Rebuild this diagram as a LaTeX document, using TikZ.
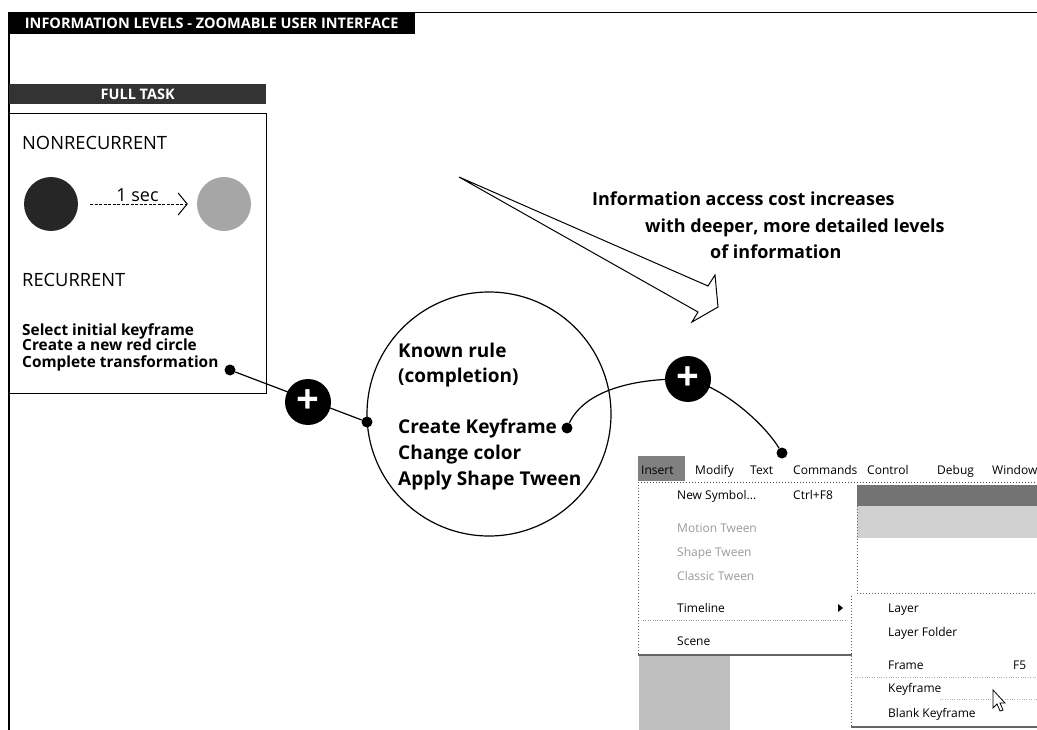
\documentclass[tikz,border=0pt]{standalone}
\usepackage{fontspec}
\setmainfont{Open Sans}
\newfontfamily\menufont{Open Sans}
\usetikzlibrary{arrows.meta}
\tikzstyle{titlebar}=[fill=black, text=white, inner sep=0, anchor=north west, font=\bfseries\fontsize{14.5}{16}\selectfont]
\tikzstyle{plaintext}=[anchor=base west, inner sep=0, font=\fontsize{18.3}{20}\selectfont]
\tikzstyle{steptext}=[anchor=base west, inner sep=0, font=\bfseries\fontsize{15.4}{17}\selectfont]
\tikzstyle{ruletext}=[anchor=base west, inner sep=0, font=\bfseries\fontsize{19}{20}\selectfont]
\tikzstyle{costtext}=[anchor=base west, inner sep=0, font=\bfseries\fontsize{18}{18}\selectfont]
\tikzstyle{joint}=[circle, fill=black, minimum size=11pt, inner sep=0]
\tikzstyle{plusnode}=[circle, fill=black, minimum size=46pt, inner sep=0, text=white, font=\bfseries\fontsize{40}{40}\selectfont]
\tikzstyle{wire}=[line width=1.2pt]
\tikzstyle{menuhead}=[anchor=base west, inner sep=0, font=\menufont\fontsize{12}{14}\selectfont]
\tikzstyle{menuitem}=[anchor=base west, inner sep=0, font=\menufont\fontsize{12}{13}\selectfont]
\tikzstyle{greyitem}=[menuitem, text=black!40]

\begin{document}
\begin{tikzpicture}[x=1pt, y=-1pt]
    \useasboundingbox (0,0) rectangle (1037,730);

    % frame and title
    \draw[line width=1.2pt] (9,12) -- (9,730);
    \draw[line width=1pt] (415,13) -- (1037,13);
    \node[titlebar, minimum width=407pt, minimum height=22pt] (title) at (8,12) {INFORMATION LEVELS - ZOOMABLE USER INTERFACE};

    % full task box
    \node[titlebar, fill=black!80, minimum width=257pt, minimum height=20pt, font=\bfseries\fontsize{14.5}{15}\selectfont] (fulltask) at (9,84) {FULL TASK};
    \node[draw, line width=1.2pt, minimum width=257pt, minimum height=280pt, anchor=north west] (task) at (9,113) {};
    \node[plaintext] (nonrec) at (22,150) {NONRECURRENT};
    \node[circle, fill=black!85, minimum size=54pt] (before) at (51,204) {};
    \node[circle, fill=black!35, minimum size=54pt] (after) at (224,204) {};
    \draw[line width=0.8pt, dash pattern=on 3pt off 1.5pt, -{Straight Barb[length=9pt, width=22pt, line width=1pt]}, shorten <=12pt, shorten >=9pt] (before) -- node[above=2pt, inner sep=0, font=\fontsize{18}{18}\selectfont] {1 sec} (after);
    \node[plaintext] (rec) at (22,287) {RECURRENT};
    \node[steptext] (step1) at (22,335) {Select initial keyframe};
    \node[steptext] (step2) at (22,351) {Create a new red circle};
    \node[steptext] (step3) at (22,367) {Complete transformation};

    % known rule
    \node[circle, draw, line width=1.2pt, minimum size=244pt] (rule) at (489,414) {};
    \node[ruletext] (known) at (398,357) {Known rule};
    \node[ruletext] (completion) at (398,382) {(completion)};
    \node[ruletext] (keyframe) at (398,433) {Create Keyframe};
    \node[ruletext] (color) at (398,459) {Change color};
    \node[ruletext] (tween) at (398,485) {Apply Shape Tween};

    % links
    \node[joint] (dotA) at (230,370) {};
    \node[joint] (dotB) at (367,422) {};
    \node[joint] (dotC) at (567,428) {};
    \node[joint] (dotD) at (782,453) {};
    \draw[wire] (dotA) -- (dotB);
    \draw[wire] (dotC) .. controls (585,390) and (635,378) .. (688,379) .. controls (725,388) and (765,425) .. (dotD);
    \node[plusnode] (plusA) at (308,402) {+};
    \node[plusnode] (plusB) at (688,379) {+};

    % access cost
    \draw[line width=1pt, line join=miter] (459,177) -- (708,286) -- (715,275) -- (718,307) -- (692,322) -- (698,312) -- cycle;
    \node[costtext] (cost1) at (592,206) {Information access cost increases};
    \node[costtext] (cost2) at (645,233) {with deeper, more detailed levels};
    \node[costtext] (cost3) at (710,259) {of information};

    % menu screenshot
    \begin{scope}
    \clip (0,0) rectangle (1037,730);
    \fill[black!25] (639,655) rectangle (730,730);
    \fill[black!55] (857,485) rectangle (1037,506);
    \fill[black!18] (857,506) rectangle (1037,538);
    \draw[black!60, dotted, line width=1pt] (857,485) -- (857,593) -- (1037,593);
    \fill[black!50] (638,456) rectangle (685,481);
    \draw[black!70, dotted, line width=1pt] (638,482) -- (1037,482);
    \draw[black!60, dotted, line width=1pt] (638,482) -- (638,655);
    \draw[black!60, line width=1.5pt] (638,655) -- (852,655);
    \draw[black!60, dotted, line width=1pt] (851,596) -- (851,727);
    \draw[black!60, line width=1.5pt] (851,727) -- (1037,727);
    \draw[black!40, dotted] (643,620) -- (847,620);
    \draw[black!30, dotted] (855,677) -- (1037,677);
    \draw[black!30, dotted] (940,699) -- (1037,699);
    \node[menuhead] (insert) at (641,474) {Insert};
    \node[menuhead] (modify) at (695,474) {Modify};
    \node[menuhead] (text) at (750,474) {Text};
    \node[menuhead] (commands) at (793,474) {Commands};
    \node[menuhead] (control) at (867,474) {Control};
    \node[menuhead] (debug) at (937,474) {Debug};
    \node[menuhead] (window) at (992,474) {Window};
    \node[menuitem] (newsym) at (677,499) {New Symbol...};
    \node[menuitem] (ctrl) at (793,499) {Ctrl+F8};
    \node[greyitem] (motion) at (677,532) {Motion Tween};
    \node[greyitem] (shape) at (677,556) {Shape Tween};
    \node[greyitem] (classic) at (677,580) {Classic Tween};
    \node[menuitem] (timeline) at (677,612) {Timeline};
    \fill (838,604) -- (843,608) -- (838,612) -- cycle;
    \node[menuitem] (scene) at (677,645) {Scene};
    \node[menuitem] (layer) at (888,612) {Layer};
    \node[menuitem] (folder) at (888,636) {Layer Folder};
    \node[menuitem] (frame) at (888,669) {Frame};
    \node[menuitem] (ffive) at (1013,669) {F5};
    \node[menuitem] (key) at (888,692) {Keyframe};
    \node[menuitem] (blank) at (888,717) {Blank Keyframe};
    \draw[fill=white, line width=0.8pt] (993,690) -- (993,708) -- (997,704) -- (1000,711) -- (1003,710) -- (1000,703) -- (1005,703) -- cycle;
    \end{scope}
\end{tikzpicture}
\end{document}
